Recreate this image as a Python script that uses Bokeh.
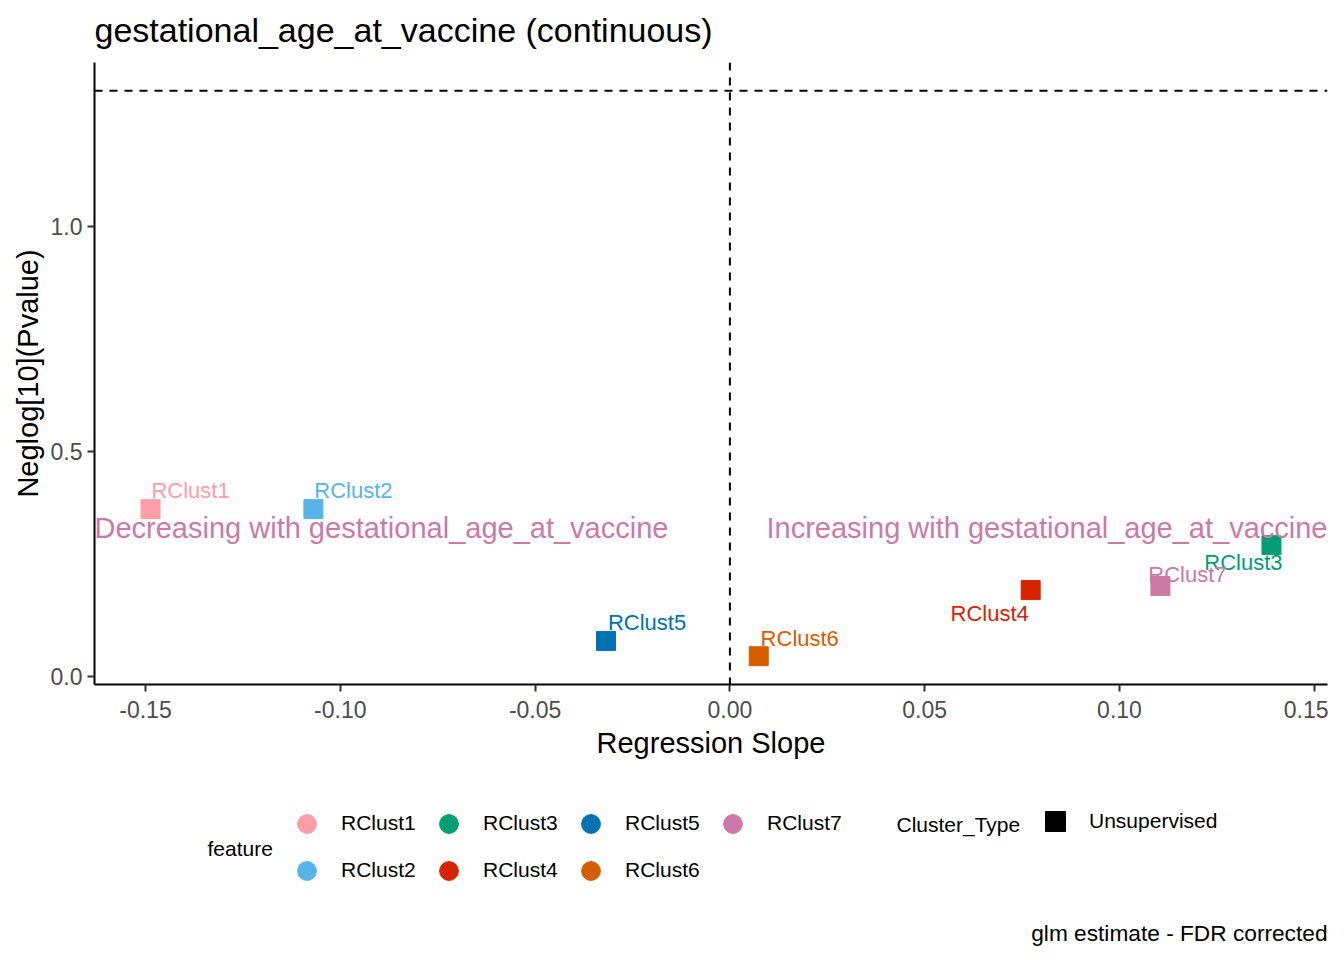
from bokeh.plotting import figure
from bokeh.layouts import column
from bokeh.models import Range1d, Span, Label, Legend, LegendItem, FixedTicker, ColumnDataSource
from bokeh.core.properties import value
from bokeh.embed import file_html
from bokeh.resources import INLINE

# ---------------- data ----------------
features = ["RClust1", "RClust2", "RClust3", "RClust4", "RClust5", "RClust6", "RClust7"]
slopes = [-0.1487, -0.1069, 0.1390, 0.0772, -0.0318, 0.0074, 0.1105]
neglog_p = [0.371, 0.371, 0.291, 0.191, 0.078, 0.044, 0.200]
colors = ["#FF9DA7", "#56B4E9", "#009E73", "#D62300", "#0072B2", "#D55E00", "#CC79A7"]
cluster_type = "Unsupervised"
significance = 1.30103  # -log10(0.05)
annot_y = 0.33
x_ticks = [-0.15, -0.10, -0.05, 0.0, 0.05, 0.10, 0.15]
x_tick_labels = ["-0.15", "-0.10", "-0.05", "0.00", "0.05", "0.10", "0.15"]
y_ticks = [0.0, 0.5, 1.0]
y_tick_labels = ["0.0", "0.5", "1.0"]

# label nudges (screen px, like ggrepel placement)
label_dx = [40, 40, -28, -41, 41, 41, 27]
label_dy = [-19, -19, 17, 23, -18, -18, -12]

FONT = "Liberation Sans"

# ranges with 5% expansion (ggplot style)
xmin, xmax = min(slopes), max(slopes)
xpad = 0.05 * (xmax - xmin)
ylo, yhi = min(neglog_p), max(neglog_p + [significance])
ypad = 0.05 * (yhi - ylo)

W = 1328
H0, H1, H2 = 62, 708, 185
L, R, B = 94, 1, 86
FW = W - L - R


def blank_panel(height):
    f = figure(width=W, height=height, x_range=Range1d(0, 1), y_range=Range1d(0, 1),
               output_backend="svg", toolbar_location=None, title=None,
               min_border_left=L, min_border_right=R, min_border_top=0, min_border_bottom=0)
    f.axis.visible = False
    f.grid.visible = False
    f.outline_line_color = None
    f.background_fill_color = "white"
    f.border_fill_color = "white"
    return f


# ---------------- title panel ----------------
t = blank_panel(H0)
t.add_layout(Label(x=0, y=33, x_units="screen", y_units="screen",
                   text="gestational_age_at_vaccine (continuous)",
                   text_align="left", text_baseline="alphabetic", text_font=FONT,
                   text_font_size="34px", text_color="black"))

# ---------------- main plot ----------------
p = figure(width=W, height=H1, title=None,
           x_range=Range1d(xmin - xpad, xmax + xpad),
           y_range=Range1d(ylo - ypad, yhi + ypad),
           output_backend="svg", toolbar_location=None,
           min_border_left=L, min_border_right=R, min_border_top=0, min_border_bottom=B,
           x_axis_label="Regression Slope", y_axis_label="Neglog[10](Pvalue)")
p.grid.visible = False
p.outline_line_color = None
p.background_fill_color = "white"
p.border_fill_color = "white"

p.xaxis.ticker = FixedTicker(ticks=x_ticks)
p.xaxis.major_label_overrides = dict(zip(x_ticks, x_tick_labels))
p.yaxis.ticker = FixedTicker(ticks=y_ticks)
p.yaxis.major_label_overrides = dict(zip(y_ticks, y_tick_labels))
for ax in (p.xaxis[0], p.yaxis[0]):
    ax.axis_line_width = 2
    ax.axis_line_color = "black"
    ax.major_tick_line_color = "#333333"
    ax.major_tick_line_width = 2
    ax.major_tick_out = 7
    ax.major_tick_in = 0
    ax.minor_tick_line_color = None
    ax.major_label_text_font = FONT
    ax.major_label_text_font_size = "23px"
    ax.major_label_text_color = "#4D4D4D"
    ax.axis_label_text_font = FONT
    ax.axis_label_text_font_size = "29px"
    ax.axis_label_text_font_style = "normal"
    ax.axis_label_text_color = "black"
p.xaxis[0].major_label_standoff = 9
p.xaxis[0].axis_label_standoff = 6
p.yaxis[0].major_label_standoff = 5
p.yaxis[0].axis_label_standoff = 4

# reference lines
p.add_layout(Span(location=0, dimension="height", line_color="black",
                  line_dash="8 7", line_width=2))
p.add_layout(Span(location=significance, dimension="width", line_color="black",
                  line_dash="8 7", line_width=2))

src = ColumnDataSource(dict(x=slopes, y=neglog_p, feature=features, color=colors,
                            dx=label_dx, dy=label_dy))
p.scatter("x", "y", source=src, marker="square", size=19,
          fill_color="color", line_color="color")
p.text("x", "y", text="feature", source=src, text_color="color",
       x_offset="dx", y_offset="dy", text_align="center", text_baseline="middle",
       text_font=value(FONT), text_font_size="22px")

# direction annotations
p.add_layout(Label(x=xmin - xpad, y=annot_y, text="Decreasing with gestational_age_at_vaccine",
                   text_align="left", text_baseline="middle", text_color="#CC79A7",
                   text_font=FONT, text_font_size="29px"))
p.add_layout(Label(x=xmax + xpad, y=annot_y, text="Increasing with gestational_age_at_vaccine",
                   text_align="right", text_baseline="middle", text_color="#CC79A7",
                   text_font=FONT, text_font_size="29px"))

# ---------------- legend / caption panel ----------------
q = blank_panel(H2)

nan = float("nan")
feat_items = []
for f, c in zip(features, colors):
    r = q.scatter(x=[nan], y=[nan], marker="circle", size=19, fill_color=c, line_color=c)
    feat_items.append(LegendItem(label=f, renderers=[r]))
sq = q.scatter(x=[nan], y=[nan], marker="square", size=20, fill_color="black", line_color="black")

common = dict(border_line_color=None, background_fill_alpha=0, padding=0, margin=0,
              spacing=0, label_text_font=FONT, label_text_font_size="21px",
              label_text_color="black", label_text_baseline="middle")
leg1 = Legend(items=feat_items, orientation="vertical", nrows=2,
              glyph_width=47, glyph_height=47, label_standoff=11, label_width=84,
              label_height=47, location=(189, 61.5), **common)
leg2 = Legend(items=[LegendItem(label=cluster_type, renderers=[sq])],
              glyph_width=50, glyph_height=50, label_standoff=9, label_height=50,
              location=(936, 108.7), **common)
q.add_layout(leg1, "center")
q.add_layout(leg2, "center")

q.add_layout(Label(x=113, y=107, x_units="screen", y_units="screen", text="feature",
                   text_align="left", text_baseline="middle", text_font=FONT,
                   text_font_size="21px", text_color="black"))
q.add_layout(Label(x=802, y=131, x_units="screen", y_units="screen", text="Cluster_Type",
                   text_align="left", text_baseline="middle", text_font=FONT,
                   text_font_size="21px", text_color="black"))
q.add_layout(Label(x=FW, y=23, x_units="screen", y_units="screen",
                   text="glm estimate - FDR corrected",
                   text_align="right", text_baseline="middle", text_font=FONT,
                   text_font_size="22.7px", text_color="black"))

layout = column(t, p, q, spacing=0)
open("out.html", "w").write(file_html(layout, INLINE))
